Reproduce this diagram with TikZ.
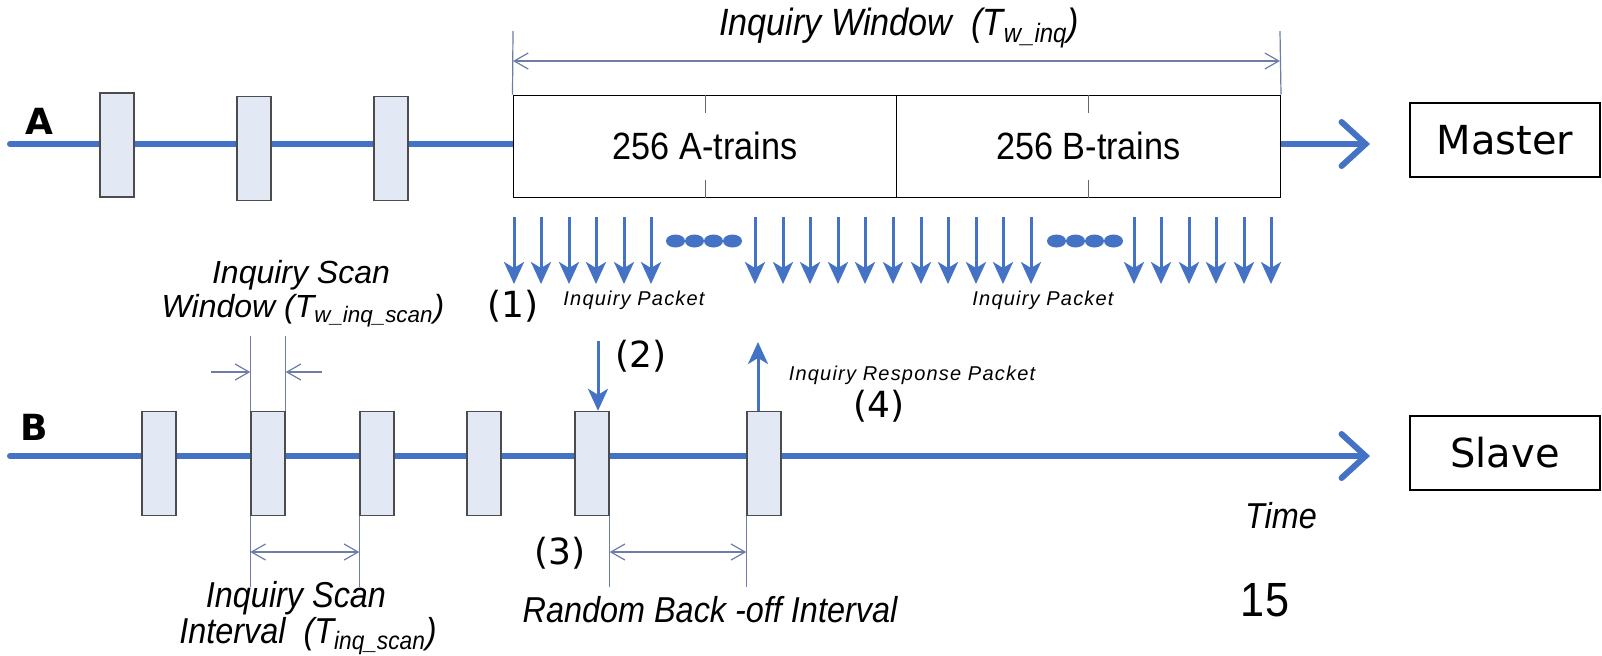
\documentclass[tikz,border=0pt]{standalone}
\usepackage{fontspec}
\setmainfont{Liberation Sans}
\newfontfamily\narfont[FakeStretch=0.9]{Liberation Sans}
\newfontfamily\dvfont{DejaVu Sans}
\newfontfamily\spcfont[LetterSpace=6]{Liberation Sans}
\usetikzlibrary{arrows.meta,shapes.geometric}
\definecolor{tblue}{RGB}{68,114,196}
\definecolor{boxfill}{RGB}{226,233,245}
\definecolor{dimc}{RGB}{110,125,165}
\begin{document}
\begin{tikzpicture}[x=0.5pt,y=-0.5pt,
  timeline/.style={draw=tblue, line width=3pt, line cap=round, -{Straight Barb[length=12pt,width=22pt,line cap=round]}},
  slot/.style={draw=black!70, fill=boxfill, line width=0.7pt, minimum width=17pt, minimum height=52pt, inner sep=0pt},
  train/.style={draw=black, fill=white, line width=0.5pt, minimum width=192pt, minimum height=51pt, inner sep=0pt, font=\narfont\fontsize{19}{22}\selectfont},
  role/.style={draw=black, fill=white, line width=0.8pt, minimum width=95pt, minimum height=37pt, inner sep=0pt, font=\dvfont\fontsize{20}{24}\selectfont},
  pkt/.style={draw=tblue, line width=1.5pt, -{Stealth[length=11pt,width=10pt,inset=3pt]}},
  dimline/.style={draw=dimc, line width=0.6pt},
  dimarrow/.style={dimline, {Straight Barb[length=7pt,width=8pt]}-{Straight Barb[length=7pt,width=8pt]}},
  onebarb/.style={dimline, -{Straight Barb[length=7pt,width=8pt]}},
  lbl/.style={inner sep=0pt, font=\narfont\itshape\fontsize{18}{20}\selectfont},
  lblw/.style={inner sep=0pt, font=\itshape\fontsize{16}{18}\selectfont},
  num/.style={inner sep=0pt, font=\dvfont\fontsize{18}{20}\selectfont},
  pktlbl/.style={inner sep=0pt, font=\spcfont\itshape\fontsize{10}{12}\selectfont},
  letter/.style={inner sep=0pt, font=\dvfont\bfseries\fontsize{18}{20}\selectfont},
  dotmark/.style={fill=tblue, draw=none, ellipse, minimum width=9.5pt, minimum height=6.5pt, inner sep=0pt},
]
\useasboundingbox (0,0) rectangle (1602,655);

% timelines
\coordinate (Astart) at (10,144);
\coordinate (Aend) at (1370,144);
\coordinate (Bstart) at (10,456);
\coordinate (Bend) at (1370,456);
\draw[timeline] (Astart) -- (Aend);
\draw[timeline] (Bstart) -- (Bend);

\node[letter] (labA) at (39,121) {A};
\node[letter] (labB) at (34,427) {B};

% master slots
\node[slot] (a1) at (117,145) {};
\node[slot] (a2) at (254,148.5) {};
\node[slot] (a3) at (391,148.5) {};

% trains
\node[train] (at) at (705,146) {256 A-trains};
\node[train] (bt) at (1088.5,146) {256 B-trains};
\draw[black!60, line width=0.5pt] (at.north) -- ++(0,18) (at.south) -- ++(0,-18)
  (bt.north) -- ++(0,18) (bt.south) -- ++(0,-18);

% roles
\node[role] (master) at (1505,140) {Master};
\node[role] (slave) at (1505,453) {Slave};

% slave slots
\node[slot] (b1) at (159,463.5) {};
\node[slot] (b2) at (268,463.5) {};
\node[slot] (b3) at (377,463.5) {};
\node[slot] (b4) at (484,463.5) {};
\node[slot] (b5) at (592,463.5) {};
\node[slot] (b6) at (764,463.5) {};

% inquiry window dimension
\coordinate (iwL) at (513,31);
\coordinate (iwR) at (1280,31);
\draw[dimline] (iwL) -- (at.north west);
\draw[dimline] (iwR) -- (bt.north east);
\coordinate (iwy) at (0,61);
\draw[dimarrow] (iwy -| iwL) -- (iwy -| iwR);
\node[lbl, font=\narfont\itshape\fontsize{19}{22}\selectfont] (iwt) at (899,28) {Inquiry Window~~(T\textsubscript{w\_inq})};

% inquiry packets
\foreach \x in {514,541,569,596,624,651,755,783,810,838,865,893,921,948,976,1003,1031,1134,1161,1189,1216,1244,1271}
  \draw[pkt] (\x,217) -- (\x,284);
\foreach \x in {675.5,694.5,713.5,732.5,1056.5,1075.5,1094.5,1113.5}
  \node[dotmark] at (\x,241) {};

\node[num] (n1) at (513,306) {(1)};
\node[pktlbl] (ip1) at (634,300) {Inquiry Packet};
\node[pktlbl] (ip2) at (1043,300) {Inquiry Packet};

% (2) and (4)
\coordinate (c2) at (598,341);
\draw[pkt] (c2) -- (c2 |- b5.north);
\node[num] (n2) at (641,356) {(2)};
\coordinate (c4) at (758,342);
\draw[pkt] (c4 |- b6.north) -- (c4);
\node[pktlbl] (irp) at (912,375) {Inquiry Response Packet};
\node[num] (n4) at (879,406) {(4)};

% scan window
\draw[dimline] (b2.north west) -- ++(0,-75);
\draw[dimline] (b2.north east) -- ++(0,-75);
\coordinate (sw1) at (211,372);
\coordinate (sw2) at (322,372);
\draw[onebarb] (sw1) -- (sw1 -| b2.west);
\draw[onebarb] (sw2) -- (sw2 -| b2.east);
\node[lblw] (sw) at (301,275) {Inquiry Scan};
\node[lblw] (sw2t) at (303,311) {Window (T\textsubscript{w\_inq\_scan})};

% scan interval
\coordinate (si) at (0,552);
\draw[dimline] (b2.south west) -- ++(0,71);
\draw[dimline] (b3.south west) -- ++(0,71);
\draw[dimarrow] (si -| b2.west) -- (si -| b3.west);
\node[lbl] (sit1) at (296,598) {Inquiry Scan};
\node[lbl] (sit2) at (308,636) {Interval~~(T\textsubscript{inq\_scan})};

% back-off
\draw[dimline] (b5.south east) -- ++(0,71);
\draw[dimline] (b6.south west) -- ++(0,71);
\draw[dimarrow] (si -| b5.east) -- (si -| b6.west);
\node[num] (n3) at (560,553) {(3)};
\node[lbl] (rbo) at (710,610) {Random Back -off Interval};

\node[lbl] (time) at (1281,516) {Time};
\node[inner sep=0pt, font=\narfont\fontsize{24}{26}\selectfont] (fifteen) at (1265,600) {15};
\end{tikzpicture}
\end{document}
